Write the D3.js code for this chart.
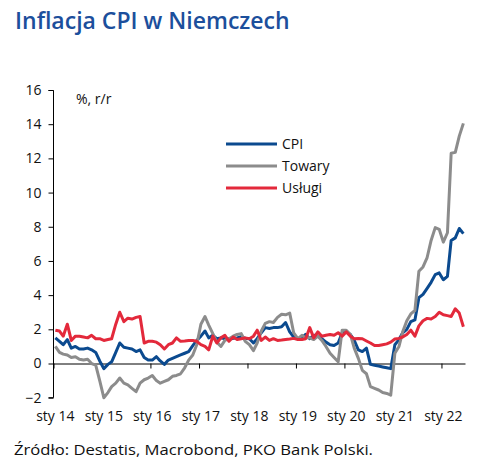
<!DOCTYPE html>
<html><head><meta charset="utf-8">
<script src="https://cdn.jsdelivr.net/npm/d3@7/dist/d3.min.js"></script>
<style>
html,body{margin:0;padding:0;background:#fff;}
svg{display:block;font-family:"Open Sans",sans-serif;}
</style></head>
<body>
<svg id="c" width="492" height="462"></svg>
<script>
// ---- data (monthly, Jan 2014 .. Jun 2022) ----
const startMonth = "2014-01";
const endMonth = "2022-06";
const yearLabels = ["sty 14","sty 15","sty 16","sty 17","sty 18","sty 19","sty 20","sty 21","sty 22"];
const yTicks = [-2,0,2,4,6,8,10,12,14,16];
const seriesNames = ["CPI","Towary","Usługi"];
const seriesColors = ["#0b4a8f","#8c8c8c","#e3293b"];

const cpi = [
 1.5,1.3,1.1,1.4,0.9,1.0,0.85,0.85,0.9,0.8,0.65,0.15,
 -0.3,-0.05,0.1,0.65,1.2,0.95,0.9,0.85,0.7,0.8,0.35,0.2,
 0.2,0.4,0.15,-0.05,0.2,0.3,0.4,0.5,0.6,0.7,1.05,1.35,
 1.6,1.9,1.5,1.65,1.45,1.5,1.45,1.45,1.47,1.5,1.57,1.47,
 1.45,1.2,1.45,1.8,2.1,2.05,2.1,2.1,2.15,2.4,1.85,1.55,
 1.45,1.5,1.7,1.45,1.65,1.6,1.45,1.25,1.1,1.05,1.2,1.8,
 1.85,1.7,1.35,0.8,0.7,0.9,-0.05,-0.1,-0.15,-0.2,-0.25,-0.3,
 1.1,1.4,1.8,2.0,2.45,2.55,3.85,4.05,4.4,4.75,5.2,5.3,
 4.9,5.1,7.2,7.35,7.9,7.6
];
const towary = [
 1.0,0.65,0.55,0.5,0.35,0.4,0.25,0.2,0.25,0.0,-0.1,-1.0,
 -2.0,-1.7,-1.35,-1.15,-0.85,-1.15,-1.25,-1.45,-1.65,-1.15,-0.95,-0.85,
 -0.7,-1.0,-1.15,-1.05,-0.95,-0.75,-0.7,-0.6,-0.25,0.2,0.5,1.1,
 2.3,2.75,2.25,1.75,1.25,1.0,1.35,1.45,1.6,1.7,1.75,1.3,
 1.1,0.75,1.2,1.9,2.35,2.45,2.4,2.7,2.88,2.85,2.95,1.8,
 1.45,1.65,1.5,1.5,1.4,1.6,1.35,1.0,0.6,0.35,0.1,1.95,
 1.95,1.7,0.9,0.3,-0.4,-0.6,-1.35,-1.45,-1.55,-1.7,-1.75,-1.85,
 0.6,1.0,1.85,2.5,2.9,3.1,5.4,5.65,6.2,7.2,7.95,7.85,
 7.1,7.65,12.3,12.35,13.3,14.05
];
const uslugi = [
 1.95,1.9,1.6,2.3,1.35,1.6,1.6,1.55,1.5,1.65,1.45,1.45,
 1.35,1.4,1.45,2.3,3.0,2.45,2.65,2.6,2.7,2.75,1.2,1.3,
 1.3,1.25,1.1,0.85,1.1,1.2,1.5,1.3,1.32,1.35,1.35,1.3,
 1.1,1.0,0.8,1.6,1.2,1.5,1.65,1.3,1.55,1.4,1.45,1.5,
 1.45,1.6,1.95,1.35,1.55,1.35,1.45,1.35,1.37,1.4,1.43,1.47,
 1.4,1.4,1.45,2.1,1.5,1.85,1.6,1.65,1.7,1.65,1.8,1.6,
 1.85,1.6,1.45,1.47,1.45,1.32,1.2,1.05,1.05,1.1,1.15,1.25,
 1.43,1.47,1.55,1.7,1.95,1.6,2.2,2.5,2.64,2.6,2.75,3.0,
 2.85,2.8,2.75,3.2,2.95,2.15
];

// ---- layout ----
const svg = d3.select("#c");
const parseM = d3.timeParse("%Y-%m");
const months = d3.timeMonth.range(parseM(startMonth), d3.timeMonth.offset(parseM(endMonth),1));
const mid = d => d3.timeDay.offset(d, 14);

const x = d3.scaleTime()
  .domain([parseM(startMonth), d3.timeMonth.offset(parseM(endMonth),1)])
  .range([53.5, 465.5]);
const y = d3.scaleLinear().domain([-2,16]).range([397.7, 90]);

// title
svg.append("text").attr("x",15).attr("y",29)
  .attr("fill","#1c4f9c").attr("font-size",23).attr("font-weight",600)
  .text("Inflacja CPI w Niemczech")
  .each(function(){ const L=this.getComputedTextLength(); if(L>278){ d3.select(this).attr("textLength",278).attr("lengthAdjust","spacingAndGlyphs"); } });

// y axis
const yAxis = d3.axisLeft(y).tickValues(yTicks).tickSize(5).tickPadding(7).tickFormat(d3.format("d"));
const gy = svg.append("g").attr("transform","translate(53.5,0)").call(yAxis);
gy.select(".domain").attr("stroke","#000").attr("d","M-5,90.5H0V397.7H-5");
gy.selectAll(".tick line").attr("stroke","#000");
gy.selectAll(".tick text").attr("font-size",14).attr("fill","#111").attr("font-family","Open Sans, sans-serif");

// zero line with year ticks
const years = d3.timeYear.range(parseM(startMonth), d3.timeMonth.offset(parseM(endMonth),1));
const xAxis = d3.axisBottom(x).tickValues(years).tickSize(5).tickFormat("");
const gx = svg.append("g").attr("transform",`translate(0,${y(0)})`).call(xAxis);
gx.select(".domain").attr("stroke","#000").attr("d",`M53.5,0.5H465.5`);
gx.selectAll(".tick line").attr("stroke","#000");

// year labels at bottom
svg.append("g").selectAll("text").data(years).join("text")
  .attr("x", d => x(mid(d))).attr("y", 421)
  .attr("text-anchor","middle").attr("font-size",14).attr("fill","#111")
  .text((d,i) => yearLabels[i]);

// unit
svg.append("text").attr("x",76).attr("y",104).attr("font-size",14).attr("fill","#111").text("%, r/r");

// lines (drawn in legend order: CPI, Towary, Usługi on top)
const seriesValues = [cpi, towary, uslugi];
const line = d3.line().x((d,i) => x(mid(months[i]))).y(d => y(d));
seriesValues.forEach((vals, k) => {
  svg.append("path").datum(vals)
    .attr("d", line).attr("fill","none")
    .attr("stroke", seriesColors[k]).attr("stroke-width",3)
    .attr("stroke-linejoin","round");
});

// legend
const lg = svg.append("g");
seriesNames.forEach((n,i) => {
  const yy = 144 + i*22;
  lg.append("line").attr("x1",226).attr("x2",277).attr("y1",yy).attr("y2",yy)
    .attr("stroke",seriesColors[i]).attr("stroke-width",3);
  lg.append("text").attr("x",282).attr("y",yy+5).attr("font-size",14).attr("fill","#111").text(n);
});

// source
svg.append("text").attr("x",14).attr("y",455).attr("font-size",15).attr("fill","#111")
  .text("Źródło: Destatis, Macrobond, PKO Bank Polski.")
  .attr("textLength",359).attr("lengthAdjust","spacingAndGlyphs");
</script>
</body></html>
